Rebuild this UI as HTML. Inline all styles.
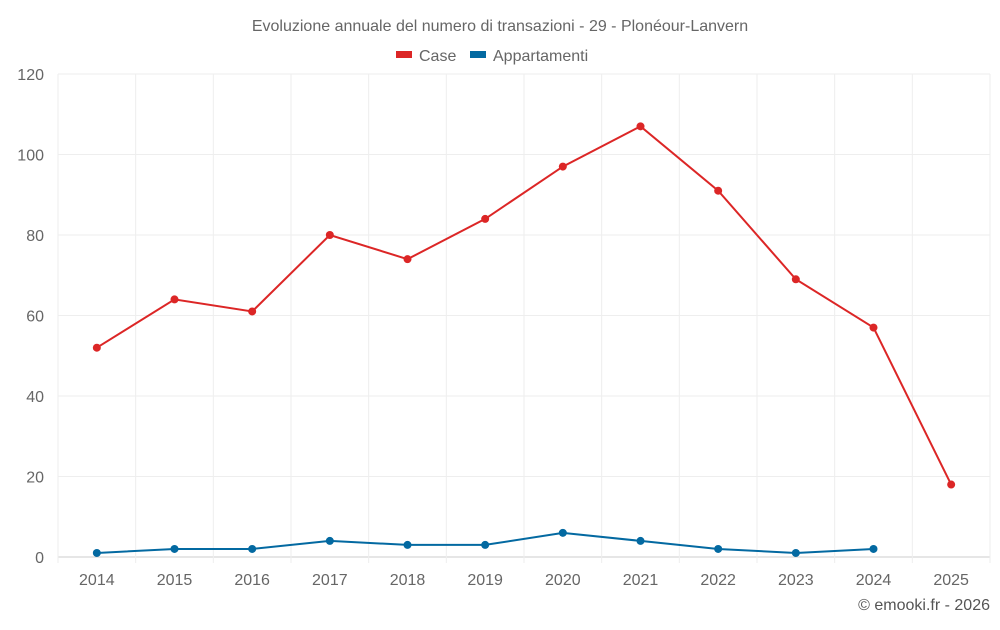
<!DOCTYPE html>
<html><head><meta charset="utf-8"><style>
body{margin:0;background:#fff;font-family:"Liberation Sans",sans-serif}
</style></head><body>
<svg width="1000" height="625" id="c" font-family="Liberation Sans, sans-serif">
<text x="500" y="31" text-anchor="middle" font-size="16" fill="#666">Evoluzione annuale del numero di transazioni - 29 - Plonéour-Lanvern</text>
<g><rect x="396" y="51" width="16" height="7" fill="#dc2626"/><text x="419" y="61" font-size="16" fill="#666">Case</text></g>
<g><rect x="470" y="51" width="16" height="7" fill="#0369a1"/><text x="493" y="61" font-size="16" fill="#666">Appartamenti</text></g>
<text x="990" y="610" text-anchor="end" font-size="16" fill="#555">© emooki.fr - 2026</text>
</svg>
<script>
const years=["2014","2015","2016","2017","2018","2019","2020","2021","2022","2023","2024","2025"];
const caseVals=[52,64,61,80,74,84,97,107,91,69,57,18];
const appVals=[1,2,2,4,3,3,6,4,2,1,2];
const yTicks=[0,20,40,60,80,100,120];
const L=58,R=990,T=74,B=557,yMax=120;
const bw=(R-L)/years.length;
const x=i=>L+bw*(i+0.5);
const y=v=>B-(v/yMax)*(B-T);
const svg=document.getElementById('c');
const NS='http://www.w3.org/2000/svg';
function mk(t,a){const e=document.createElementNS(NS,t);for(const k in a)e.setAttribute(k,a[k]);svg.appendChild(e);return e;}
yTicks.forEach(v=>{
 const l=mk('line',{x1:L,x2:R,y1:y(v),y2:y(v),stroke:v===0?'#ccc':'#eee'});
 
 
 const t=mk('text',{x:44,y:y(v)+6,'text-anchor':'end','font-size':16,fill:'#666'});t.textContent=v;
 
 
});
for(let i=0;i<=years.length;i++){
 const l=mk('line',{x1:L+bw*i,x2:L+bw*i,y1:T,y2:B+6,stroke:'#eee'});
 
 
}
years.forEach((yr,i)=>{
 const t=mk('text',{x:x(i),y:585,'text-anchor':'middle','font-size':16,fill:'#666'});t.textContent=yr;
 
 
});
function series(vals,col,name){
 const p=mk('polyline',{points:vals.map((v,i)=>x(i)+','+y(v)).join(' '),fill:'none',stroke:col,'stroke-width':2});
 
 
 vals.forEach((v,i)=>{
  const c=mk('circle',{cx:x(i),cy:y(v),r:4,fill:col});
  
  
 });
}
series(caseVals,'#dc2626','case');
series(appVals,'#0369a1','appartamenti');
</script>
</body></html>
